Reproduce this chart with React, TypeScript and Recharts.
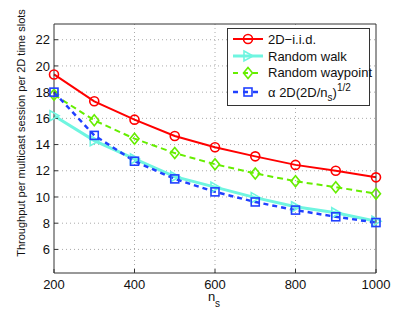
import {
    LineChart, Line, XAxis, YAxis, CartesianGrid, Legend,
} from 'recharts';

const NS = [200, 300, 400, 500, 600, 700, 800, 900, 1000];
const IID = [19.35, 17.3, 15.9, 14.65, 13.8, 13.1, 12.45, 12.0, 11.5];
const WALK = [16.2, 14.3, 12.9, 11.55, 10.75, 9.95, 9.25, 8.8, 8.15];
const WAYPOINT = [17.8, 15.85, 14.45, 13.35, 12.5, 11.8, 11.2, 10.75, 10.25];
const BOUND = [18.0, 14.7, 12.73, 11.38, 10.39, 9.62, 9.0, 8.49, 8.05];

const X_TICKS = [200, 400, 600, 800, 1000];
const Y_TICKS = [6, 8, 10, 12, 14, 16, 18, 20, 22];
const Y_DOMAIN: [number, number] = [4.2, 23.2];

const FONT = '"Liberation Sans", Arial, Helvetica, sans-serif';
const AXIS = '#333';

const data = NS.map((n, i) => ({
    n,
    iid: IID[i],
    walk: WALK[i],
    waypoint: WAYPOINT[i],
    bound: BOUND[i],
}));

type Marker = 'circle' | 'triangle' | 'diamond' | 'square';

const SERIES = [
    { key: 'iid', name: '2D\u2212i.i.d.', color: '#ff0000', width: 2, dash: undefined, marker: 'circle' as Marker },
    { key: 'walk', name: 'Random walk', color: '#6ff5e0', width: 3, dash: undefined, marker: 'triangle' as Marker },
    { key: 'waypoint', name: 'Random waypoint', color: '#66ee00', width: 2, dash: '6 4', marker: 'diamond' as Marker },
    { key: 'bound', name: 'bound', color: '#2040ff', width: 2.5, dash: '5 4', marker: 'square' as Marker },
];

function shape(marker: Marker, cx: number, cy: number, color: string) {
    const common = { fill: 'none', stroke: color, strokeWidth: 1.6 };
    switch (marker) {
        case 'circle':
            return <circle cx={cx} cy={cy} r={4.5} {...common} />;
        case 'triangle':
            return <polygon points={`${cx - 4},${cy - 5} ${cx + 5},${cy} ${cx - 4},${cy + 5}`} {...common} />;
        case 'diamond':
            return <polygon points={`${cx},${cy - 5.5} ${cx + 4.5},${cy} ${cx},${cy + 5.5} ${cx - 4.5},${cy}`} {...common} />;
        default:
            return <rect x={cx - 4} y={cy - 4} width={8} height={8} {...common} />;
    }
}

const makeDot = (marker: Marker, color: string) => (p: any) => (
    <g key={`${marker}-${p.index}`}>{shape(marker, p.cx, p.cy, color)}</g>
);

function LegendBox() {
    return (
        <div style={{
            background: '#fff', border: '1px solid #333', width: 143, height: 78,
            boxSizing: 'border-box', fontFamily: FONT, fontSize: 13, color: '#111', paddingTop: 2,
        }}>
            {SERIES.map((s) => (
                <div key={s.key} style={{ display: 'flex', alignItems: 'center', height: s.key === 'bound' ? 22 : 16.7 }}>
                    <svg width={40} height={14} style={{ flex: 'none' }}>
                        <line x1={5} y1={7} x2={35} y2={7} stroke={s.color} strokeWidth={s.width}
                            strokeDasharray={s.dash ? '5 5' : undefined} />
                        {shape(s.marker, 20, 7, s.color)}
                    </svg>
                    <span style={{ whiteSpace: 'nowrap' }}>
                        {s.key === 'bound'
                            ? <>α 2D(2D/n<sub style={{ fontSize: 10, verticalAlign: -4 }}>s</sub>)<sup style={{ fontSize: 10, verticalAlign: 6 }}>1/2</sup></>
                            : s.name}
                    </span>
                </div>
            ))}
        </div>
    );
}

export default function App() {
    return (
        <div style={{ position: 'absolute', left: 0, top: 0, width: 415, height: 313, background: '#fff' }}>
            <LineChart width={415} height={313} data={data} margin={{ top: 23, right: 38, left: 0, bottom: 0 }}
                style={{ fontFamily: FONT }}>
                <CartesianGrid stroke="#aaa" strokeDasharray="1 3"
                    verticalValues={[400, 600, 800]} horizontalValues={Y_TICKS} />
                <XAxis dataKey="n" type="number" domain={[200, 1000]} ticks={X_TICKS} height={40}
                    tickSize={-4} tickMargin={11} stroke={AXIS} strokeWidth={1}
                    tick={{ fill: '#111', fontSize: 13 }}
                    label={{
                        content: () => (
                            <text x={214} y={301} textAnchor="middle" fontSize={13} fill="#111" fontFamily={FONT}>
                                n<tspan fontSize={10} dy={6}>s</tspan>
                            </text>
                        ),
                    }} />
                <XAxis xAxisId="top" orientation="top" type="number" domain={[200, 1000]} ticks={X_TICKS}
                    height={1} tickSize={-4} tick={false} stroke={AXIS} />
                <YAxis type="number" domain={Y_DOMAIN} ticks={Y_TICKS} width={54} allowDataOverflow
                    tickSize={-4} tickMargin={8} stroke={AXIS} tick={{ fill: '#111', fontSize: 13 }}
                    label={{
                        content: () => (
                            <text x={25} y={133} transform="rotate(-90 25 133)" textAnchor="middle"
                                fontSize={11} fill="#111" fontFamily={FONT}>
                                Throughput per multicast session per 2D time slots
                            </text>
                        ),
                    }} />
                <YAxis yAxisId="right" orientation="right" type="number" domain={Y_DOMAIN} ticks={Y_TICKS}
                    width={1} allowDataOverflow tickSize={-4} tick={false} stroke={AXIS} />
                {SERIES.map((s) => (
                    <Line key={s.key} dataKey={s.key} name={s.name} type="linear" stroke={s.color}
                        strokeWidth={s.width} strokeDasharray={s.dash} isAnimationActive={false}
                        dot={makeDot(s.marker, s.color)} activeDot={false} />
                ))}
                <Legend layout="vertical" align="center" verticalAlign="middle" content={() => <LegendBox />}
                    wrapperStyle={{ position: 'absolute', left: 227, top: 28, width: 143, height: 78 }} />
            </LineChart>
        </div>
    );
}
